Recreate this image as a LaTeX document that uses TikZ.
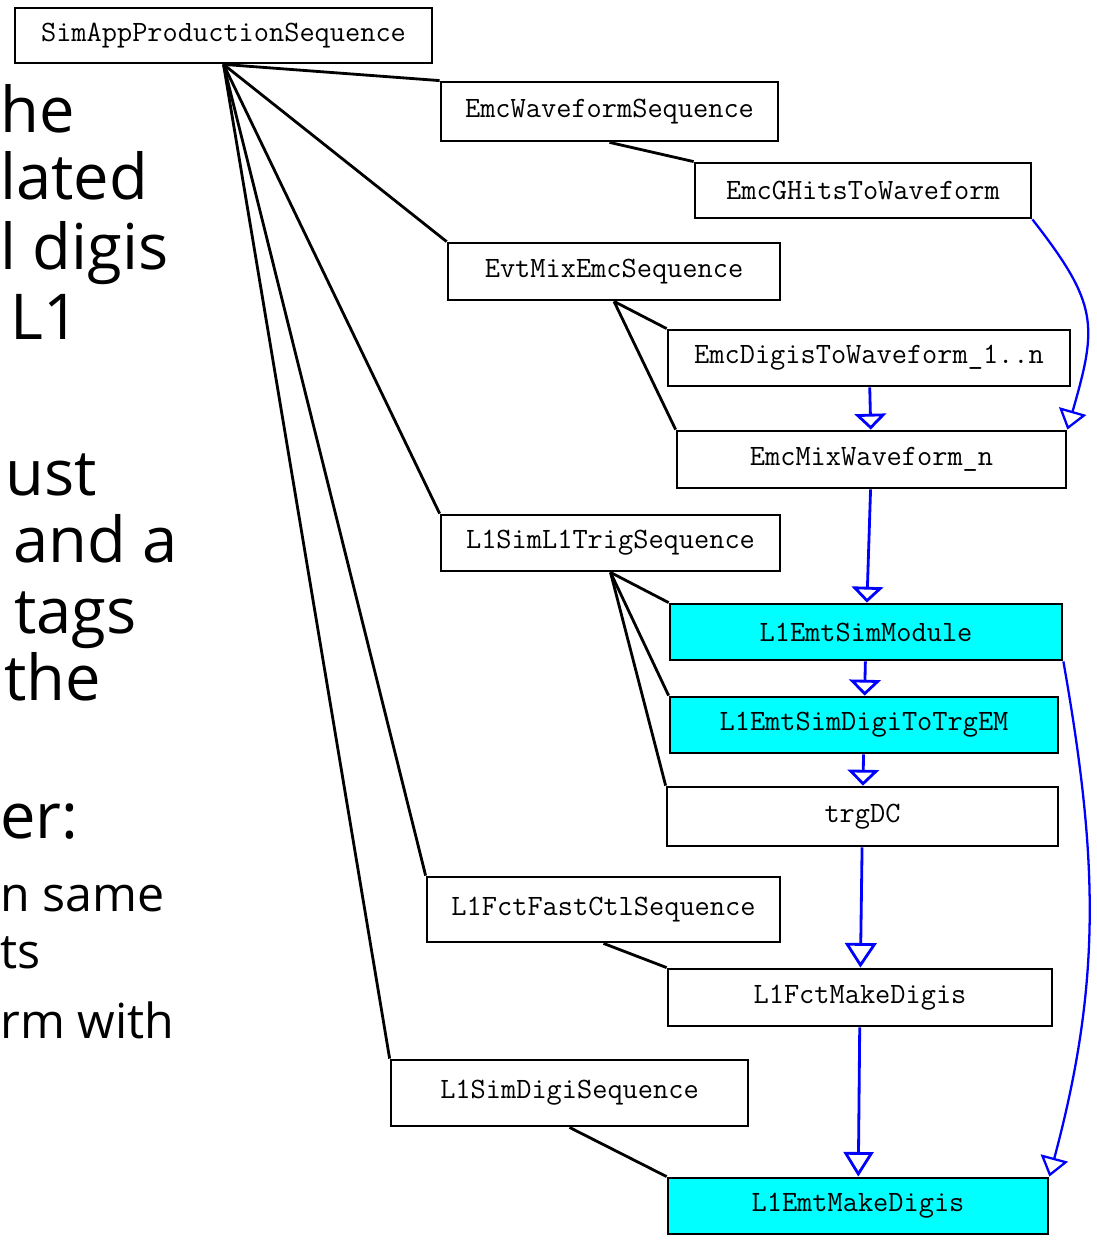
\documentclass[tikz,border=0pt]{standalone}
\usepackage{fontspec}
\setmainfont{Open Sans}
\usepackage{tikz}
\usetikzlibrary{arrows.meta}
\definecolor{modcyan}{RGB}{0,255,255}
\definecolor{flowblue}{RGB}{0,0,255}

\begin{document}
\begin{tikzpicture}[x=0.02cm, y=0.02cm,
    mbox/.style={draw, line width=1.6pt, inner sep=0pt, minimum height=1.12cm,
                 font=\fontsize{16.8}{18}\ttfamily},
    lnk/.style={line width=1.6pt},
    flow/.style={-{Triangle[open, length=9pt, width=18pt]}, line width=1.6pt, draw=flowblue},
    slide/.style={anchor=base west, inner sep=0pt, font=\fontsize{36}{40}\selectfont},
    subslide/.style={anchor=base west, inner sep=0pt, font=\fontsize{27.5}{32}\selectfont}
]
\useasboundingbox (0,0) rectangle (1097,-1246);

% slide text on the left
\node[slide] (t1) at (0,-133) {he};
\node[slide] (t2) at (0,-200) {lated};
\node[slide] (t3) at (0,-270) {l digis};
\node[slide] (t4) at (10,-340) {L1};
\node[slide] (t5) at (5,-495) {ust};
\node[slide] (t6) at (13,-562) {and a};
\node[slide] (t7) at (14,-633) {tags};
\node[slide] (t8) at (4,-700) {the};
\node[slide] (t9) at (0,-838) {er:};
\node[subslide] (s1) at (0,-911) {n same};
\node[subslide] (s2) at (0,-968) {ts};
\node[subslide] (s3) at (0,-1038) {rm with};

% modules
\node[mbox, minimum width=8.34cm, minimum height=1.1cm]  (sim)  at (223.5,-35.5)  {SimAppProductionSequence};
\node[mbox, minimum width=6.74cm, minimum height=1.18cm] (ewf)  at (609.5,-111.5) {EmcWaveformSequence};
\node[mbox, minimum width=6.72cm, minimum height=1.1cm]  (ghit) at (863,-190.5)   {EmcGHitsToWaveform};
\node[mbox, minimum width=6.64cm, minimum height=1.14cm] (evt)  at (614,-271.5)   {EvtMixEmcSequence};
\node[mbox, minimum width=8.04cm]                        (dtw)  at (869,-358)     {EmcDigisToWaveform\_1..n};
\node[mbox, minimum width=7.78cm, minimum height=1.14cm] (mix)  at (871.5,-459.5) {EmcMixWaveform\_n};
\node[mbox, minimum width=6.78cm]                        (trig) at (610.5,-543)   {L1SimL1TrigSequence};
\node[mbox, minimum width=7.84cm, fill=modcyan]          (esm)  at (866,-632)     {L1EmtSimModule};
\node[mbox, minimum width=7.76cm, fill=modcyan]          (edt)  at (864,-725)     {L1EmtSimDigiToTrgEM};
\node[mbox, minimum width=7.82cm, minimum height=1.18cm] (trg)  at (862.5,-816.5) {trgDC};
\node[mbox, minimum width=7.06cm, minimum height=1.3cm]  (fct)  at (603.5,-909.5) {L1FctFastCtlSequence};
\node[mbox, minimum width=7.68cm, minimum height=1.14cm] (fmd)  at (860,-997.5)   {L1FctMakeDigis};
\node[mbox, minimum width=7.14cm, minimum height=1.32cm] (sdg)  at (569.5,-1093)  {L1SimDigiSequence};
\node[mbox, minimum width=7.6cm, fill=modcyan]           (emd)  at (858,-1206)    {L1EmtMakeDigis};

% sequence membership
\draw[lnk] (sim.south) -- (ewf.north west); \draw[lnk] (sim.south) -- (evt.north west);
\draw[lnk] (sim.south) -- (trig.north west); \draw[lnk] (sim.south) -- (fct.north west);
\draw[lnk] (sim.south) -- (sdg.north west);
\draw[lnk] (ewf.south) -- (ghit.north west);
\draw[lnk] (evt.south) -- (dtw.north west); \draw[lnk] (evt.south) -- (mix.north west);
\draw[lnk] (trig.south) -- (esm.north west); \draw[lnk] (trig.south) -- (edt.north west);
\draw[lnk] (trig.south) -- (trg.north west);
\draw[lnk] (fct.south) -- (fmd.north west);
\draw[lnk] (sdg.south) -- (emd.north west);

% data flow
\draw[flow] (dtw) -- (mix); \draw[flow] (mix) -- (esm);
\draw[flow] (esm) -- (edt); \draw[flow] (edt) -- (trg);
\draw[flow, -{Triangle[open, length=14pt, width=18pt]}] (trg) -- (fmd);
\draw[flow, -{Triangle[open, length=14pt, width=17pt]}] (fmd) -- (emd);
\draw[flow, line width=1.3pt, -{Triangle[open, length=11pt, width=16pt]}]
  (ghit.south east) to[out=-52, in=74, looseness=1.3] (mix.north east);
\draw[flow, line width=1.3pt, -{Triangle[open, length=11pt, width=16pt]}]
  (esm.south east) to[out=-80, in=75] (emd.north east);
\end{tikzpicture}
\end{document}
